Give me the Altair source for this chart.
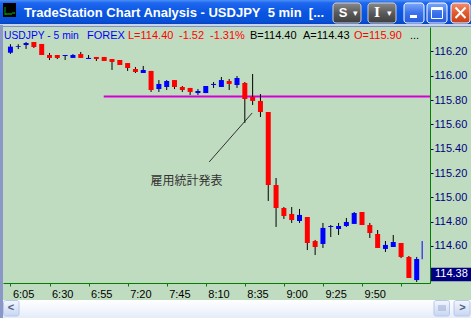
import json
import altair as alt
import pandas as pd

# ---- data: USDJPY 5-min bars, 6:05 .. 10:25 ----
opens = [116.19, 116.236, 116.253, 116.278, 116.262, 116.171, 116.171, 116.163, 116.147, 116.179,
         116.138, 116.155, 116.155, 116.138, 116.130, 116.105, 116.056, 116.023, 116.040, 115.891,
         115.908, 115.965, 115.908, 115.900, 115.858, 115.858, 115.924, 115.908, 115.957, 115.924,
         115.941, 115.826, 115.793, 115.702, 115.101, 114.912, 114.863, 114.805, 114.838, 114.640,
         114.616, 114.756, 114.739, 114.764, 114.781, 114.879, 114.772, 114.698, 114.575, 114.591,
         114.624, 114.509, 114.319]
highs = [116.26, 116.26, 116.278, 116.278, 116.262, 116.188, 116.171, 116.171, 116.179, 116.196,
         116.171, 116.155, 116.155, 116.138, 116.130, 116.105, 116.072, 116.081, 116.040, 115.965,
         115.965, 115.965, 115.916, 115.900, 115.891, 115.916, 115.949, 115.990, 115.974, 115.998,
         115.949, 116.015, 115.850, 115.702, 115.159, 114.920, 114.920, 114.904, 114.838, 114.649,
         114.789, 114.772, 114.789, 114.830, 114.879, 114.879, 114.789, 114.731, 114.640, 114.690,
         114.624, 114.517, 114.509]
lows = [116.18, 116.22, 116.221, 116.229, 116.171, 116.130, 116.138, 116.130, 116.147, 116.147,
        116.138, 116.122, 116.122, 116.048, 116.089, 116.040, 116.023, 116.023, 115.867, 115.867,
        115.883, 115.891, 115.867, 115.842, 115.842, 115.858, 115.900, 115.908, 115.883, 115.900,
        115.612, 115.760, 115.661, 114.970, 114.756, 114.822, 114.789, 114.789, 114.566, 114.525,
        114.583, 114.673, 114.690, 114.756, 114.781, 114.772, 114.665, 114.583, 114.550, 114.591,
        114.500, 114.336, 114.303]
closes = [116.24, 116.244, 116.270, 116.237, 116.171, 116.147, 116.147, 116.171, 116.171, 116.147,
          116.147, 116.138, 116.122, 116.114, 116.089, 116.064, 116.031, 116.048, 115.883, 115.933,
          115.957, 115.908, 115.883, 115.867, 115.875, 115.916, 115.933, 115.965, 115.933, 115.982,
          115.809, 115.793, 115.702, 115.101, 114.912, 114.846, 114.813, 114.855, 114.624, 114.591,
          114.748, 114.764, 114.764, 114.797, 114.871, 114.772, 114.706, 114.583, 114.608, 114.632,
          114.509, 114.336, 114.492]

time_labels = ["6:05", "6:30", "6:55", "7:20", "7:45", "8:10", "8:35", "9:00", "9:25", "9:50", ""]
price_ticks = [114.6, 114.8, 115.0, 115.2, 115.4, 115.6, 115.8, 116.0, 116.2]

level_price = 115.83       # horizontal line level
level_start = 11.94        # bar index where it starts
last_price_label = "114.38"
current_tick = {"i": 52.7, "lo": 114.49, "hi": 114.64}
note_text = "雇用統計発表"
note_line = {"i": 25.44, "p": 115.291, "i2": 30.94, "p2": 115.694}
note_pos = {"i": 17.94, "p": 115.134}

header = [("USDJPY - 5 min", 4, "#0000FF", 10.3), ("FOREX", 87, "#0000FF", 11),
          ("L=114.40", 128, "#FF0000", 11), ("-1.52", 179, "#FF0000", 11),
          ("-1.31%", 210, "#FF0000", 11), ("B=114.40", 250, "#000000", 11),
          ("A=114.43", 303, "#000000", 11), ("O=115.90", 354, "#FF0000", 11),
          ("...", 410, "#000000", 11)]
title_text = "TradeStation Chart Analysis - USDJPY\u00a0\u00a05 min\u00a0\u00a0[..."

df = pd.DataFrame({"i": list(range(len(opens))), "open": opens, "high": highs,
                   "low": lows, "close": closes})
df["dir"] = ["up" if c >= o else "down" for o, c in zip(opens, closes)]

FONT = "Liberation Sans"
X0, Y0 = 3, 27  # plot origin on the page
W, H = 427, 256

xscale = alt.Scale(domain=[-0.3125, 53.0625], nice=False, zero=False)
yscale = alt.Scale(domain=[114.2947, 116.4016], nice=False, zero=False)

label_expr = json.dumps(time_labels) + "[round(datum.value/5)]"
xaxis = alt.Axis(values=list(range(0, 51, 5)), labelExpr=label_expr, grid=False,
                 domainColor="#008000", tickColor="#008000", tickSize=3, labelAlign="left",
                 labelOffset=2, labelPadding=2, labelFont=FONT, labelFontSize=11, labelColor="#000000",
                 title=None, labelFlush=False, labelOverlap=False)
yaxis = alt.Axis(values=price_ticks, format=".2f", orient="right", grid=False,
                 domainColor="#008000", tickColor="#000080", tickSize=3, labelPadding=1,
                 labelFont=FONT, labelFontSize=11, labelColor="#000080", title=None,
                 labelFlush=False, labelOverlap=False, labelBound=False)

one = alt.Data(values=[{}])


def grad(stops):
    return alt.LinearGradient(gradient="linear", x1=0, y1=0, x2=0, y2=1,
                              stops=[alt.GradientStop(offset=o, color=c) for o, c in stops])


def R(x1, y1, x2, y2, fill, **kw):
    return alt.Chart(one).mark_rect(fill=fill, **kw).encode(
        x=alt.value(x1 - X0), x2=alt.value(x2 - X0), y=alt.value(y1 - Y0), y2=alt.value(y2 - Y0))


def L(x1, y1, x2, y2, color, w=1):
    return alt.Chart(one).mark_rule(color=color, strokeWidth=w).encode(
        x=alt.value(x1 - X0), x2=alt.value(x2 - X0), y=alt.value(y1 - Y0), y2=alt.value(y2 - Y0))


def T(text, x, y, color, size=11, align="left", font=FONT, weight="normal"):
    return alt.Chart(one).mark_text(text=text, align=align, baseline="middle", color=color,
                                    fontSize=size, font=font, fontWeight=weight).encode(
        x=alt.value(x - X0), y=alt.value(y - Y0))


chrome = [
    # title bar
    R(0, 0, 471, 25, grad([(0, "#4A90F8"), (0.12, "#1E66EE"), (0.5, "#0A56E2"), (0.85, "#0850D6"), (1, "#0340BC")])),
    R(0, 24, 471, 26, "#C8D4EE"),
    R(0, 26, 471, 27, "#8090C0"),
    R(0, 25, 3, 318, "#8A98C8"),
    # app icon
    R(3, 3, 16, 17, "#000000"),
    L(5, 14, 12, 14, "#00D000"),
    L(12, 13, 15, 13, "#00D000"),
    L(5, 7, 5, 15, "#00A000"),
    T(title_text, 24, 13, "#FFFFFF", size=13, weight="bold"),
    # S / I buttons
    R(333, 3, 361, 23, grad([(0, "#8A8A8A"), (0.5, "#5A5A5A"), (1, "#3E3E3E")]), cornerRadius=3,
      stroke="#D0D0D0", strokeWidth=1),
    T("S", 343, 13, "#FFFFFF", size=13, align="center", weight="bold"),
    T("▾", 355, 13, "#FFFFFF", size=9, align="center"),
    R(368, 3, 396, 23, grad([(0, "#8A8A8A"), (0.5, "#5A5A5A"), (1, "#3E3E3E")]), cornerRadius=3,
      stroke="#D0D0D0", strokeWidth=1),
    T("I", 377, 13, "#FFFFFF", size=13, align="center", weight="bold", font="DejaVu Serif"),
    T("▾", 389, 13, "#FFFFFF", size=9, align="center"),
    # min / max / close
    R(404, 3, 424, 23, grad([(0, "#7FA8F8"), (0.5, "#3A72EC"), (1, "#2A5CD8")]), cornerRadius=3,
      stroke="#FFFFFF", strokeWidth=1),
    R(410, 15, 417, 18, "#FFFFFF"),
    R(427, 3, 447, 23, grad([(0, "#7FA8F8"), (0.5, "#3A72EC"), (1, "#2A5CD8")]), cornerRadius=3,
      stroke="#FFFFFF", strokeWidth=1),
    R(431.5, 7.5, 442.5, 18.5, "transparent", stroke="#FFFFFF", strokeWidth=1),
    R(431.5, 7.5, 442.5, 10, "#FFFFFF"),
    R(451, 3, 470, 23, grad([(0, "#F09070"), (0.5, "#E05A2E"), (1, "#C8401A")]), cornerRadius=3,
      stroke="#FFFFFF", strokeWidth=1),
    L(455.5, 7.5, 465.5, 18, "#FFFFFF", 2),
    L(465.5, 7.5, 455.5, 18, "#FFFFFF", 2),
    # scrollbar
    R(3, 300, 471, 318, grad([(0, "#FFFFFF"), (1, "#E4ECFA")])),
    R(3.5, 300.5, 19, 316, grad([(0, "#F2F6FE"), (1, "#C8D6F2")]), cornerRadius=2,
      stroke="#B8C8E8", strokeWidth=1),
    T("<", 11, 308, "#4D5F80", size=11, align="center", weight="bold"),
    R(434, 300.5, 449.5, 316, grad([(0, "#F2F6FE"), (1, "#C8D6F2")]), cornerRadius=2,
      stroke="#B8C8E8", strokeWidth=1),
    L(439, 305, 439, 311, "#9AAACC"), L(441, 305, 441, 311, "#9AAACC"),
    L(443, 305, 443, 311, "#9AAACC"), L(445, 305, 445, 311, "#9AAACC"),
    R(454, 300.5, 470, 316, grad([(0, "#F2F6FE"), (1, "#C8D6F2")]), cornerRadius=2,
      stroke="#B8C8E8", strokeWidth=1),
    T(">", 462.5, 308, "#4D5F80", size=11, align="center", weight="bold"),
]

head_layers = [T(t, x, 36, c, size=s) for t, x, c, s in header]

XE = dict(scale=xscale, axis=xaxis)
YE = dict(scale=yscale, axis=yaxis)

base = alt.Chart(df)
level = alt.Chart(alt.Data(values=[{"i": level_start, "p": level_price}])).mark_rule(
    color="#D400D4", strokeWidth=2).encode(
    x=alt.X("i:Q", **XE), x2=alt.value(W), y=alt.Y("p:Q", **YE))

wicks = base.mark_rule(color="#000000", strokeWidth=1).encode(
    x=alt.X("i:Q", **XE), y=alt.Y("low:Q", **YE), y2="high:Q")
bodies = base.mark_bar(size=5).encode(
    x=alt.X("i:Q", **XE), y=alt.Y("open:Q", **YE), y2="close:Q",
    color=alt.Color("dir:N", scale=alt.Scale(domain=["up", "down"], range=["#0000FF", "#FF0000"]),
                    legend=None))

tick_line = alt.Chart(alt.Data(values=[current_tick])).mark_rule(color="#0000FF").encode(
    x=alt.X("i:Q", **XE), y=alt.Y("lo:Q", **YE), y2="hi:Q")

note_rule = alt.Chart(alt.Data(values=[note_line])).mark_rule(color="#303030", strokeWidth=1).encode(
    x=alt.X("i:Q", **XE), x2="i2:Q", y=alt.Y("p:Q", **YE), y2="p2:Q")
note_label = alt.Chart(alt.Data(values=[note_pos])).mark_text(
    text=note_text, align="left", baseline="middle", font="Noto Sans CJK JP", fontSize=12,
    color="#333333").encode(x=alt.X("i:Q", **XE), y=alt.Y("p:Q", **YE))

box = alt.Chart(alt.Data(values=[{"a": 114.42, "b": 114.31}])).mark_rect(fill="#000080").encode(
    x=alt.value(W + 1), x2=alt.value(W + 41), y=alt.Y("a:Q", **YE), y2="b:Q")
box_text = alt.Chart(alt.Data(values=[{"p": 114.365}])).mark_text(
    text=last_price_label, align="left", baseline="middle", font=FONT, fontSize=11,
    color="#FFFFFF").encode(x=alt.value(W + 5), y=alt.Y("p:Q", **YE))

chart = alt.layer(
    *chrome, *head_layers, level, wicks, bodies, tick_line, note_rule, note_label, box, box_text
).properties(
    width=W, height=H,
    padding={"left": 3, "top": 27, "right": 41, "bottom": 35},
    autosize=alt.AutoSizeParams(type="none"),
).configure(background="#C0DCC0").configure_view(stroke=None, fill="#C0DCC0").configure_axis(
    labelOverlap=False)

chart.save("out.html", embed_options={"renderer": "svg", "actions": False})
